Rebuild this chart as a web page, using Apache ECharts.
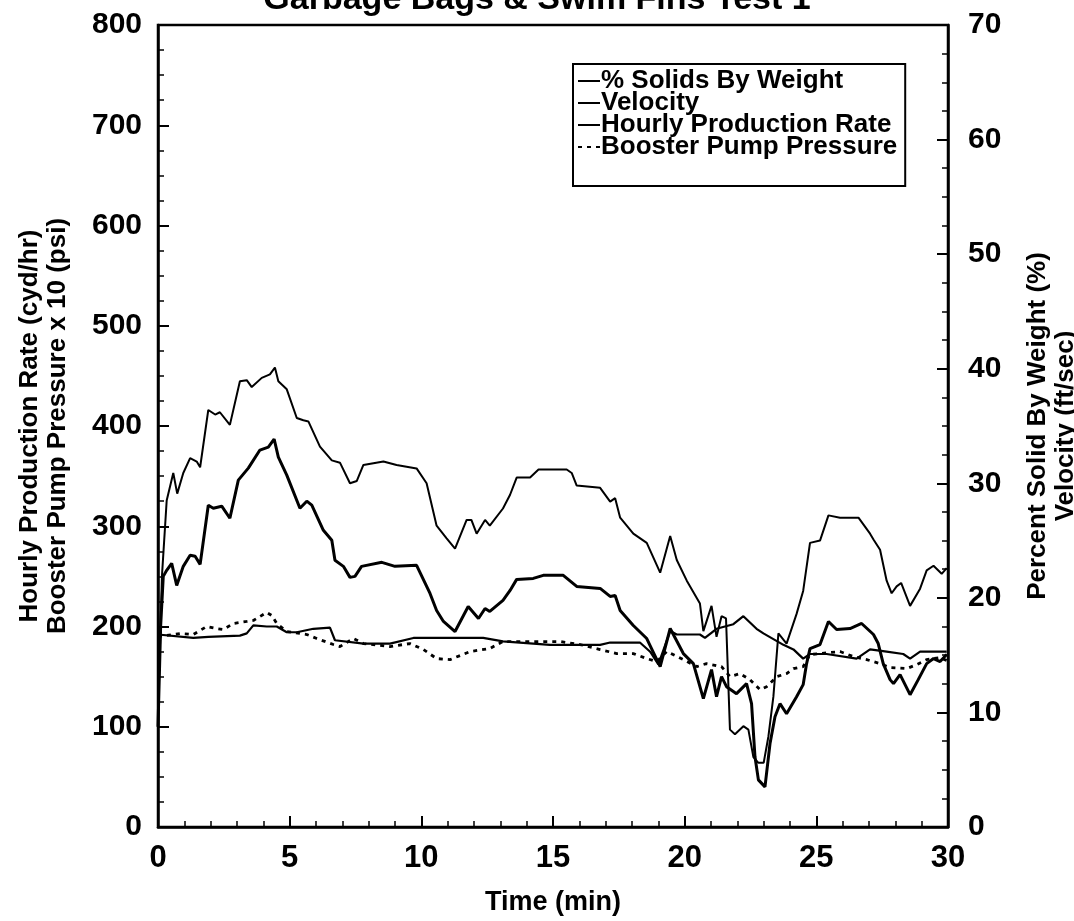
<!DOCTYPE html>
<html>
<head>
<meta charset="utf-8">
<script src="https://cdn.jsdelivr.net/npm/echarts@6/dist/echarts.min.js"></script>
<style>
  html, body { margin: 0; padding: 0; background: #fff; }
  #chart { width: 1074px; height: 921px; }
</style>
</head>
<body>
<div id="chart"></div>
<script>
// time (min), value pairs
// % solids by weight (right axis, %)
const solids = [
  [0, 9.6], [0.15, 21.9], [0.33, 28.5], [0.58, 30.9], [0.73, 29.1], [0.96, 30.9],
  [1.22, 32.2], [1.47, 31.9], [1.6, 31.4], [1.91, 36.4], [2.17, 36.0], [2.35, 36.2],
  [2.73, 35.1], [3.11, 38.9], [3.37, 39.0], [3.56, 38.4], [3.94, 39.2], [4.25, 39.5],
  [4.44, 40.1], [4.57, 38.9], [4.89, 38.2], [5.27, 35.7], [5.52, 35.5], [5.71, 35.4],
  [6.15, 33.2], [6.6, 32.0], [6.91, 31.8], [7.29, 30.0], [7.55, 30.2], [7.8, 31.6],
  [8.56, 31.9], [9.06, 31.6], [9.82, 31.3], [10.2, 30.0], [10.58, 26.3], [10.96, 25.2],
  [11.28, 24.3], [11.72, 26.8], [11.9, 26.8], [12.1, 25.6], [12.42, 26.8], [12.6, 26.3],
  [13.1, 27.8], [13.37, 29.0], [13.62, 30.5], [14.13, 30.5], [14.45, 31.2], [14.76, 31.2],
  [15.52, 31.2], [15.71, 30.9], [15.9, 29.8], [16.79, 29.6], [17.17, 28.4], [17.36, 28.7],
  [17.55, 27.0], [18.05, 25.6], [18.56, 24.8], [19.07, 22.2], [19.45, 25.4], [19.7, 23.3],
  [20.08, 21.5], [20.58, 19.5], [20.71, 17.1], [21.02, 19.3], [21.21, 16.6], [21.4, 18.4],
  [21.57, 18.2], [21.72, 8.5], [21.91, 8.1], [22.23, 8.8], [22.42, 8.5], [22.61, 6.1],
  [22.8, 5.6], [23.0, 5.6], [23.18, 7.9], [23.37, 11.4], [23.56, 16.9], [23.87, 16.0],
  [24.25, 18.6], [24.5, 20.6], [24.76, 24.8], [25.14, 25.0], [25.46, 27.2], [25.9, 27.0],
  [26.22, 27.0], [26.6, 27.0], [27.04, 25.6], [27.17, 25.1], [27.42, 24.2], [27.67, 21.5],
  [27.86, 20.4], [28.05, 21.0], [28.22, 21.3], [28.56, 19.3], [28.94, 20.8], [29.19, 22.4],
  [29.45, 22.8], [29.76, 22.1], [29.95, 22.6]
];
// velocity (right axis, ft/sec)
const velocity = [
  [0, 16.8], [1.34, 16.5], [1.91, 16.6], [3.11, 16.7], [3.37, 16.9], [3.62, 17.6],
  [4.13, 17.5], [4.51, 17.5], [4.89, 17.0], [5.27, 17.0], [5.9, 17.3], [6.53, 17.4],
  [6.72, 16.3], [7.8, 16.0], [8.81, 16.0], [9.7, 16.5], [11.09, 16.5], [12.35, 16.5],
  [13.1, 16.2], [14.89, 15.9], [16.79, 15.9], [17.17, 16.1], [18.3, 16.1], [18.69, 15.3],
  [19.0, 14.2], [19.45, 17.1], [19.7, 16.8], [20.58, 16.8], [20.77, 16.5], [21.21, 17.3],
  [21.85, 17.7], [22.23, 18.4], [22.73, 17.3], [22.99, 16.9], [23.37, 16.4], [23.75, 15.9],
  [24.13, 15.5], [24.5, 14.7], [24.76, 15.1], [25.39, 15.1], [26.53, 14.7], [27.04, 15.5],
  [27.67, 15.3], [28.3, 15.1], [28.56, 14.7], [28.94, 15.3], [29.95, 15.3]
];
// hourly production rate (left axis, cyd/hr)
const production = [
  [0, 100], [0.1, 200], [0.2, 250], [0.33, 256], [0.52, 263], [0.71, 241], [0.96, 260],
  [1.22, 271], [1.41, 270], [1.6, 262], [1.91, 321], [2.1, 318], [2.42, 320], [2.73, 308],
  [3.05, 346], [3.43, 358], [3.87, 376], [4.19, 379], [4.41, 387], [4.57, 369], [4.89, 351],
  [5.39, 318], [5.65, 325], [5.84, 321], [6.28, 296], [6.6, 286], [6.72, 266], [7.04, 260],
  [7.29, 249], [7.48, 250], [7.73, 260], [8.5, 264], [9.0, 260], [9.82, 261], [10.33, 233],
  [10.58, 216], [10.84, 205], [11.28, 195], [11.78, 220], [12.17, 208], [12.42, 218],
  [12.6, 215], [13.1, 226], [13.37, 236], [13.62, 247], [14.25, 248], [14.63, 251],
  [15.39, 251], [15.9, 240], [16.79, 238], [17.17, 230], [17.36, 231], [17.55, 216],
  [18.05, 201], [18.56, 188], [19.07, 160], [19.45, 198], [19.95, 173], [20.33, 163],
  [20.71, 128], [21.02, 157], [21.21, 130], [21.4, 150], [21.59, 140], [21.97, 133],
  [22.35, 143], [22.54, 123], [22.67, 70], [22.8, 47], [23.05, 40], [23.24, 83],
  [23.43, 110], [23.62, 123], [23.87, 113], [24.25, 130], [24.5, 142], [24.63, 163],
  [24.76, 178], [25.14, 182], [25.46, 205], [25.77, 197], [26.28, 198], [26.72, 203],
  [27.17, 192], [27.35, 183], [27.54, 163], [27.8, 147], [27.93, 143], [28.18, 152],
  [28.56, 132], [28.87, 147], [29.19, 163], [29.45, 168], [29.7, 165], [29.95, 172]
];
// booster pump pressure x 10 (left axis, psi)
const pressure = [
  [0, 190], [0.84, 193], [1.34, 192], [1.85, 200], [2.22, 198], [2.48, 197], [2.86, 203],
  [3.37, 205], [3.62, 206], [4.13, 214], [4.32, 211], [4.51, 203], [4.89, 195], [5.65, 192],
  [6.03, 188], [6.66, 182], [6.91, 180], [7.42, 188], [7.8, 183], [8.81, 180], [9.57, 183],
  [10.08, 177], [10.58, 168], [11.09, 167], [11.85, 175], [12.6, 178], [13.1, 185],
  [15.27, 185], [16.03, 182], [16.79, 177], [17.42, 173], [18.05, 173], [18.56, 168],
  [18.94, 165], [19.32, 175], [19.95, 167], [20.46, 160], [20.83, 163], [21.4, 160],
  [21.72, 150], [22.1, 153], [22.48, 147], [22.86, 137], [23.11, 140], [23.5, 150],
  [23.87, 153], [24.13, 158], [24.5, 160], [24.76, 172], [25.14, 173], [25.9, 175],
  [26.4, 170], [26.91, 167], [27.42, 163], [27.8, 159], [28.43, 158], [28.81, 162],
  [29.19, 167], [29.7, 169], [29.95, 166]
];

const font = 'Liberation Sans, Arial, Helvetica, sans-serif';
const ink = '#000';

let myChart = echarts.init(document.getElementById('chart'));

function axisBase() {
  return {
    axisLine: { show: true, lineStyle: { color: ink, width: 2.5 } },
    axisTick: { show: true, inside: true, length: 11, lineStyle: { color: ink, width: 2 } },
    minorTick: { show: true, splitNumber: 4, length: 6, lineStyle: { color: ink, width: 1.5 } },
    splitLine: { show: false },
    axisLabel: { color: ink, fontSize: 30, fontWeight: 'bold', fontFamily: font },
    nameLocation: 'middle',
    nameRotate: 90,
    nameTextStyle: { color: ink, fontSize: 26, fontWeight: 'bold', fontFamily: font, lineHeight: 28 }
  };
}

let option = {
  animation: false,
  backgroundColor: '#fff',
  title: {
    text: 'Garbage Bags & Swim Fins Test 1',
    left: 'center',
    top: -22,
    textStyle: { color: ink, fontSize: 34, fontWeight: 'bold', fontFamily: font }
  },
  legend: {
    orient: 'vertical',
    left: 573,
    top: 64,
    padding: [4, 8, 26, 4],
    itemGap: -4,
    itemWidth: 22,
    itemHeight: 12,
    borderColor: ink,
    borderWidth: 2,
    itemStyle: { opacity: 0 },
    textStyle: { color: ink, fontSize: 26, fontWeight: 'bold', fontFamily: font, lineHeight: 21, padding: [0, 0, 0, -4] },
    data: ['% Solids By Weight', 'Velocity', 'Hourly Production Rate', 'Booster Pump Pressure']
  },
  grid: {
    left: 158,
    right: 126,
    top: 25,
    bottom: 94,
    outerBoundsMode: 'none',
    containLabel: false,
    show: true,
    borderColor: ink,
    borderWidth: 2.5
  },
  xAxis: Object.assign(axisBase(), {
    type: 'value',
    min: 0,
    max: 30,
    interval: 5,
    minorTick: { show: true, splitNumber: 5, length: 6, lineStyle: { color: ink, width: 1.5 } },
    axisLabel: { color: ink, fontSize: 31, fontWeight: 'bold', fontFamily: font, margin: 16 },
    name: 'Time (min)',
    nameRotate: 0,
    nameGap: 62,
    nameTextStyle: { color: ink, fontSize: 27, fontWeight: 'bold', fontFamily: font }
  }),
  yAxis: [
    Object.assign(axisBase(), {
      type: 'value',
      position: 'left',
      min: 0,
      max: 800,
      interval: 100,
      name: 'Hourly Production Rate (cyd/hr)\nBooster Pump Pressure x 10 (psi)',
      nameGap: 86,
      axisLabel: { color: ink, fontSize: 30, fontWeight: 'bold', fontFamily: font, margin: 16 }
    }),
    Object.assign(axisBase(), {
      type: 'value',
      position: 'right',
      min: 0,
      max: 70,
      interval: 10,
      name: 'Percent Solid By Weight (%)\nVelocity (ft/sec)',
      nameGap: 76,
      axisLabel: { color: ink, fontSize: 30, fontWeight: 'bold', fontFamily: font, margin: 20 }
    })
  ],
  series: [
    {
      name: '% Solids By Weight',
      type: 'line',
      yAxisIndex: 1,
      symbol: 'none',
      lineStyle: { color: ink, width: 2 },
      itemStyle: { color: ink },
      data: solids
    },
    {
      name: 'Velocity',
      type: 'line',
      yAxisIndex: 1,
      symbol: 'none',
      lineStyle: { color: ink, width: 2.2 },
      itemStyle: { color: ink },
      data: velocity
    },
    {
      name: 'Hourly Production Rate',
      type: 'line',
      yAxisIndex: 0,
      symbol: 'none',
      lineStyle: { color: ink, width: 3 },
      itemStyle: { color: ink },
      data: production
    },
    {
      name: 'Booster Pump Pressure',
      type: 'line',
      yAxisIndex: 0,
      symbol: 'none',
      lineStyle: { color: ink, width: 2.8, type: [4, 5] },
      itemStyle: { color: ink },
      data: pressure
    }
  ]
};
myChart.setOption(option);
</script>
</body>
</html>
